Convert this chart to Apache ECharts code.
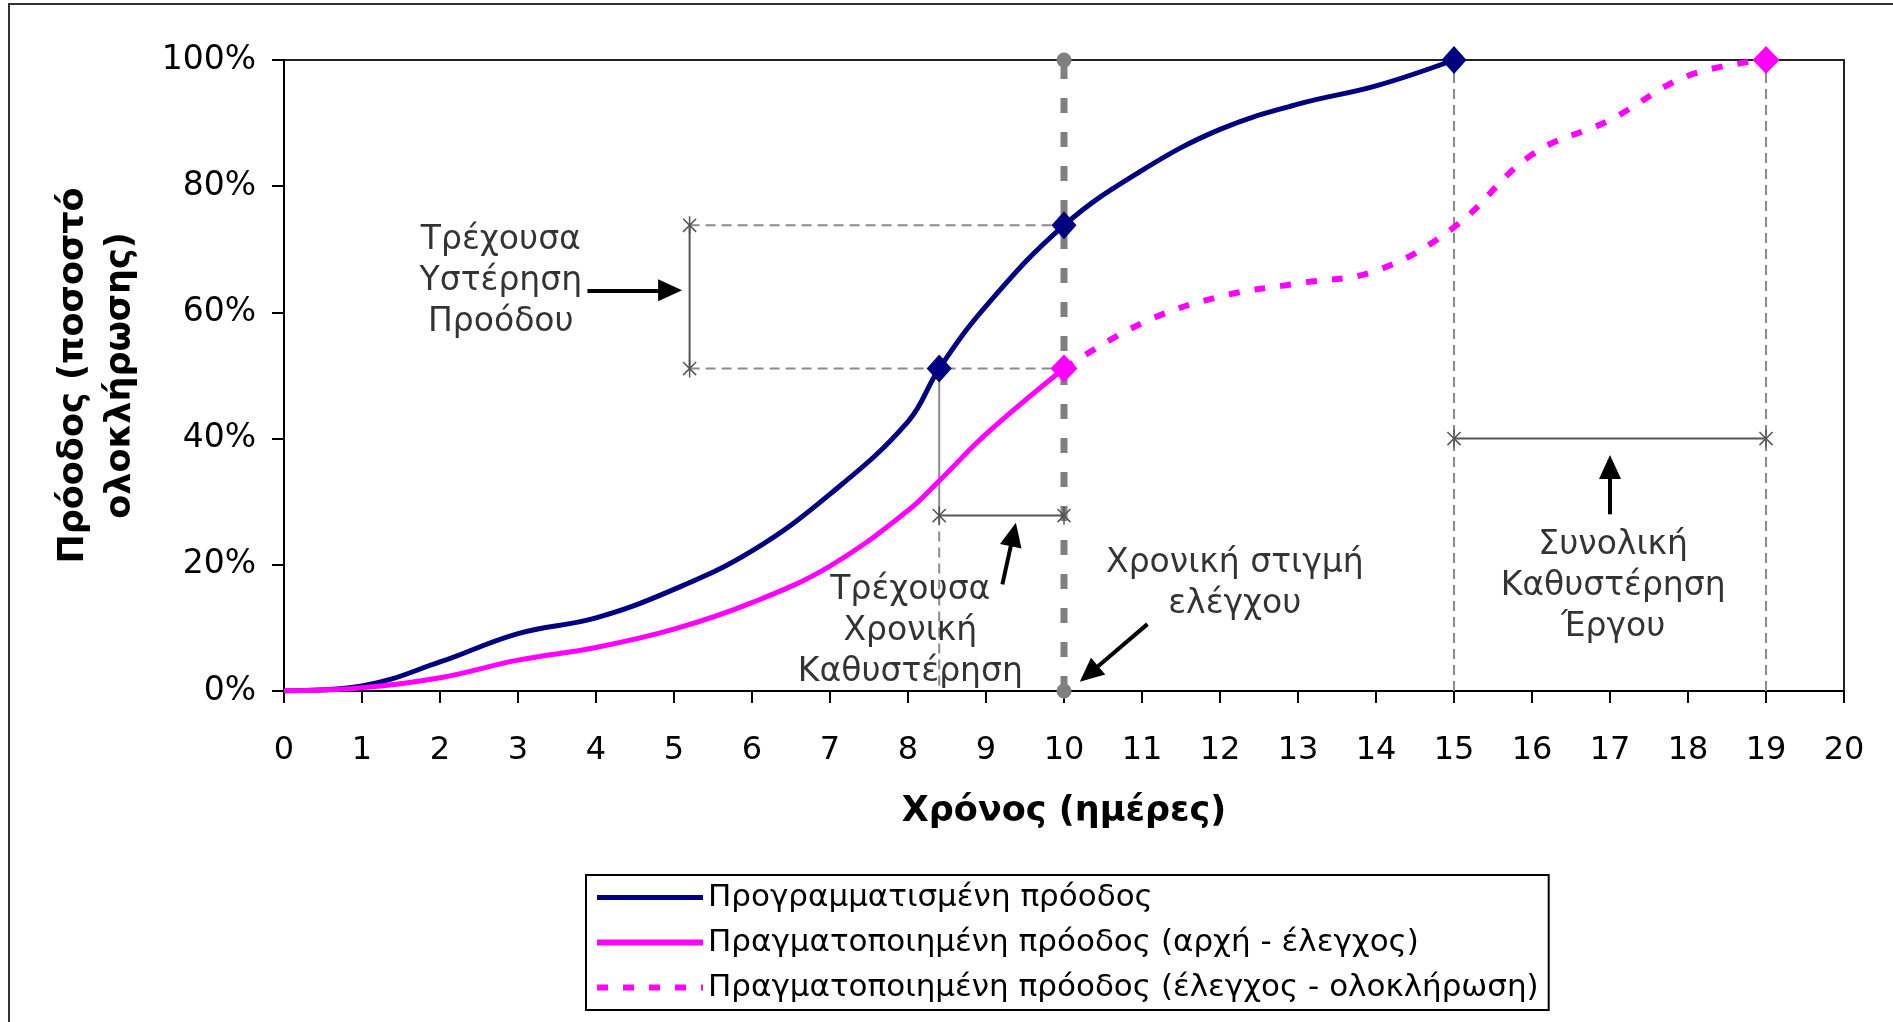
<!DOCTYPE html>
<html>
<head>
<meta charset="utf-8">
<title>Πρόοδος έργου</title>
<script src="https://cdn.jsdelivr.net/npm/echarts@6/dist/echarts.min.js"></script>
<style>
    html, body { margin: 0; padding: 0; background: #fff; }
    #chart { width: 1893px; height: 1022px; }
</style>
</head>
<body>
<div id="chart"></div>
<script>
// planned progress (days, % complete)
const plannedDays = [0, 1, 2, 3, 4, 5, 6, 7, 8, 8.4, 9, 10, 11, 12, 13, 14, 15];
const plannedPct = [0, 0.8, 4.6, 9.1, 11.6, 16.1, 22.2, 31.2, 42.7, 51.1, 61, 73.8, 82.5, 89, 93, 95.9, 100];

// actual progress, start -> check
const actualDays = [0, 1, 2, 3, 4, 5, 6, 7, 8, 8.4, 9, 10];
const actualPct = [0, 0.5, 2.1, 4.9, 6.9, 9.8, 14, 19.8, 28.6, 33.3, 40.7, 51.1];

// actual progress, check -> completion
const forecastDays = [10, 11, 12, 13, 14, 15, 16, 17, 18, 19];
const forecastPct = [51.1, 58.3, 62.5, 64.6, 66.6, 73.5, 85, 90.5, 97.5, 100];

const seriesNames = [
    'Προγραμματισμένη πρόοδος',
    'Πραγματοποιημένη πρόοδος (αρχή - έλεγχος)',
    'Πραγματοποιημένη πρόοδος (έλεγχος - ολοκλήρωση)'
];

// key moments
const checkDay = 10;
const lagDay = 8.4;
const planFinish = 15;
const actualFinish = 19;
const gapLeftDay = 5.2;
const delayLevel = 27.8;
const totalLevel = 40;

// annotation texts
const noteText = [
    'Τρέχουσα\nΥστέρηση\nΠροόδου',
    'Τρέχουσα\nΧρονική\nΚαθυστέρηση',
    'Χρονική στιγμή\nελέγχου',
    'Συνολική\nΚαθυστέρηση\nΈργου'
];
const noteDays = [2.78, 8.03, 12.19, 17.04];
const notePct = [64.9, 9.4, 17.0, 16.5];

const arrowFrom = [[3.89, 63.5], [9.21, 16.9], [11.07, 10.6], [17.0, 28.0]];
const arrowTo = [[4.95, 63.5], [9.35, 24.8], [10.32, 2.7], [17.0, 35.5]];

const FONT = 'DejaVu Sans';
const NAVY = '#000080';
const MAGENTA = '#ff00ff';
const GREY = '#8c8c8c';
const STAR = 'path://M0,0L16,16M16,0L0,16M8,-3L8,19';
const DOTS = [11, 15];

const zip = (xs, ys) => xs.map((x, i) => [x, ys[i]]);
const plannedAt = (d) => plannedPct[plannedDays.indexOf(d)];
const actualAt = (d) => actualPct[actualDays.indexOf(d)];
const forecastAt = (d) => forecastPct[forecastDays.indexOf(d)];

const plannedAtCheck = plannedAt(checkDay);
const actualAtCheck = actualAt(checkDay);
const plannedAtLag = plannedAt(lagDay);

const thinDash = { color: GREY, width: 2, type: [10, 6] };
const bracket = { color: '#555', width: 2, type: 'solid' };

function guide(data, lineStyle, extra) {
    return Object.assign({
        type: 'line',
        data: data,
        symbol: 'none',
        silent: true,
        lineStyle: lineStyle,
        z: 2
    }, extra || {});
}

function starred(data) {
    return guide(data, bracket, {
        symbol: STAR,
        symbolSize: 18,
        symbolKeepAspect: true,
        showSymbol: true,
        itemStyle: { color: 'none', borderColor: '#555', borderWidth: 1.5 },
        z: 3
    });
}

const chart = echarts.init(document.getElementById('chart'));

chart.setOption({
    animation: false,
    textStyle: { fontFamily: FONT },
    graphic: [{
        type: 'rect',
        silent: true,
        shape: { x: 9, y: 4, width: 1900, height: 1100 },
        style: { fill: 'none', stroke: '#333', lineWidth: 2 }
    }],
    grid: {
        left: 284, top: 60, width: 1560, height: 631,
        show: true, borderColor: '#222', borderWidth: 2,
        outerBoundsMode: 'none'
    },
    legend: {
        data: [
            { name: seriesNames[0], itemStyle: { opacity: 0 }, lineStyle: { width: 5 } },
            { name: seriesNames[1], itemStyle: { opacity: 0 }, lineStyle: { width: 6 } },
            { name: seriesNames[2], itemStyle: { opacity: 0 }, lineStyle: { width: 6, type: DOTS } }
        ],
        orient: 'vertical',
        left: 586, top: 875,
        itemWidth: 106, itemHeight: 14, itemGap: 14,
        padding: [7, 10, 7, 8],
        borderColor: '#000', borderWidth: 2,
        textStyle: { fontFamily: FONT, fontSize: 31, lineHeight: 31, color: '#000' }
    },
    xAxis: {
        type: 'value', min: 0, max: 20, interval: 1,
        splitLine: { show: false },
        axisLine: { show: true, lineStyle: { color: '#000', width: 2 } },
        axisTick: { show: true, length: 12, lineStyle: { color: '#000', width: 2 } },
        axisLabel: { margin: 44, fontSize: 32, color: '#000', fontFamily: FONT },
        name: 'Χρόνος (ημέρες)',
        nameLocation: 'middle',
        nameGap: 103,
        nameTextStyle: { fontSize: 35, fontWeight: 'bold', color: '#000', fontFamily: FONT }
    },
    yAxis: {
        type: 'value', min: 0, max: 100, interval: 20,
        splitLine: { show: false },
        axisLine: { show: true, lineStyle: { color: '#000', width: 2 } },
        axisTick: { show: true, length: 12, lineStyle: { color: '#000', width: 2 } },
        axisLabel: { margin: 28, fontSize: 33, color: '#000', fontFamily: FONT, formatter: '{value}%' },
        name: 'Πρόοδος (ποσοστό\nολοκλήρωσης)',
        nameLocation: 'middle',
        nameRotate: 90,
        nameGap: 140,
        nameTextStyle: { fontSize: 35, fontWeight: 'bold', color: '#000', fontFamily: FONT, lineHeight: 47 }
    },
    series: [
        // guide lines
        guide([[checkDay, 0], [checkDay, 100]], { color: '#808080', width: 7, type: [15, 19] }, {
            symbol: 'circle', symbolSize: 15, showSymbol: true,
            itemStyle: { color: '#808080' }
        }),
        guide([[gapLeftDay, plannedAtCheck], [checkDay, plannedAtCheck]], thinDash),
        guide([[gapLeftDay, actualAtCheck], [checkDay, actualAtCheck]], thinDash),
        guide([[lagDay, plannedAtLag], [lagDay, delayLevel]], { color: GREY, width: 2, type: 'solid' }),
        guide([[lagDay, delayLevel], [lagDay, 0]], thinDash),
        guide([[planFinish, 0], [planFinish, 100]], thinDash),
        guide([[actualFinish, 0], [actualFinish, 100]], thinDash),
        starred([[gapLeftDay, actualAtCheck], [gapLeftDay, plannedAtCheck]]),
        starred([[lagDay, delayLevel], [checkDay, delayLevel]]),
        starred([[planFinish, totalLevel], [actualFinish, totalLevel]]),

        // progress curves
        {
            name: seriesNames[0], type: 'line', data: zip(plannedDays, plannedPct),
            smooth: 0.4, symbol: 'none', z: 5,
            lineStyle: { color: NAVY, width: 5 }, itemStyle: { color: NAVY }
        },
        {
            name: seriesNames[1], type: 'line', data: zip(actualDays, actualPct),
            smooth: 0.4, symbol: 'none', z: 5,
            lineStyle: { color: MAGENTA, width: 5 }, itemStyle: { color: MAGENTA }
        },
        {
            name: seriesNames[2], type: 'line', data: zip(forecastDays, forecastPct),
            smooth: 0.4, symbol: 'none', z: 5,
            lineStyle: { color: MAGENTA, width: 6, type: DOTS }, itemStyle: { color: MAGENTA }
        },

        // diamond markers
        {
            type: 'scatter', silent: true, z: 6,
            symbol: 'diamond', symbolSize: [25, 28],
            itemStyle: { color: NAVY, opacity: 1 },
            data: [lagDay, checkDay, planFinish].map((d) => [d, plannedAt(d)])
        },
        {
            type: 'scatter', silent: true, z: 6,
            symbol: 'diamond', symbolSize: [27, 28],
            itemStyle: { color: MAGENTA, opacity: 1 },
            data: [[checkDay, actualAtCheck], [actualFinish, forecastAt(actualFinish)]]
        },

        // annotation texts and arrows
        {
            type: 'scatter', silent: true, z: 7,
            symbolSize: 1,
            itemStyle: { color: 'transparent' },
            label: {
                show: true, position: 'inside',
                formatter: (p) => p.name,
                fontFamily: FONT, fontSize: 33, lineHeight: 41,
                color: '#000', align: 'center', verticalAlign: 'middle'
            },
            data: noteText.map((t, i) => ({ name: t, value: [noteDays[i], notePct[i]] })),
            markLine: {
                silent: true,
                symbol: ['none', 'triangle'],
                symbolSize: [22, 24],
                label: { show: false },
                lineStyle: { color: '#000', width: 4, type: 'solid' },
                data: arrowFrom.map((a, i) => [{ coord: a }, { coord: arrowTo[i] }])
            }
        }
    ]
});
</script>
</body>
</html>
